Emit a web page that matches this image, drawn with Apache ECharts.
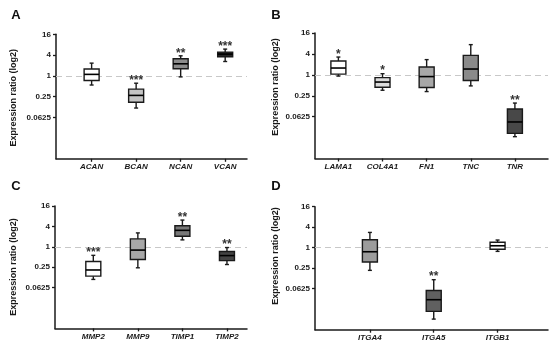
<!DOCTYPE html>
<html>
<head>
<meta charset="utf-8">
<script src="https://cdn.jsdelivr.net/npm/echarts@6/dist/echarts.min.js"></script>
<style>html,body{margin:0;padding:0;background:#fff}#c{width:550px;height:350px}</style>
</head>
<body>
<div id="c"></div>
<script>
// ---- data (box: [min, Q1, median, Q3, max]) ----
const catsA = ['ACAN', 'BCAN', 'NCAN', 'VCAN'];
const boxesA = [[0.54, 0.73, 1.1, 1.57, 2.33], [0.116, 0.17, 0.27, 0.41, 0.61], [0.93, 1.6, 2.23, 3.11, 3.8], [2.6, 3.56, 4.26, 4.87, 5.95]];
const starsA = ['', '***', '**', '***'];

const catsB = ['LAMA1', 'COL4A1', 'FN1', 'TNC', 'TNR'];
const boxesB = [[0.92, 1.05, 1.57, 2.5, 3.25], [0.36, 0.44, 0.62, 0.83, 1.08], [0.33, 0.43, 0.89, 1.68, 2.74], [0.48, 0.69, 1.47, 3.64, 7.4], [0.0166, 0.0207, 0.044, 0.104, 0.154]];
const starsB = ['*', '*', '', '', '**'];

const catsC = ['MMP2', 'MMP9', 'TIMP1', 'TIMP2'];
const boxesC = [[0.109, 0.136, 0.207, 0.37, 0.56], [0.24, 0.42, 0.80, 1.71, 2.57], [1.6, 2.04, 3.06, 4.2, 6.15], [0.30, 0.39, 0.55, 0.73, 0.95]];
const starsC = ['***', '', '**', '**'];

const catsD = ['ITGA4', 'ITGA5', 'ITGB1'];
const boxesD = [[0.216, 0.38, 0.76, 1.72, 2.81], [0.008, 0.0135, 0.0297, 0.0556, 0.115], [0.78, 0.9, 1.14, 1.44, 1.68]];
const starsD = ['', '**', ''];

const yTicks = [0.0625, 0.25, 1, 4, 16];
const yMin = 1 / 256, yMax = 16, refValue = 1;
const panelLetters = ['A', 'B', 'C', 'D'];
const yTitle = 'Expression ratio (log2)';

// ---- styles ----
const fillsA = ['#ffffff', '#c4c4c4', '#8c8c8c', '#262626'];
const fillsB = ['#ffffff', '#dcdcdc', '#a8a8a8', '#8a8a8a', '#484848'];
const fillsC = ['#ffffff', '#a8a8a8', '#787878', '#444444'];
const fillsD = ['#9c9c9c', '#606060', '#ffffff'];
const FONT = '"Liberation Sans", Arial, sans-serif';
const INK = '#1a1a1a';

const panels = [
  { cats: catsA, boxes: boxesA, stars: starsA, fills: fillsA, grid: { left: 56, top: 34.3, width: 191, height: 124.5 }, xr: [-0.8, 3.49] },
  { cats: catsB, boxes: boxesB, stars: starsB, fills: fillsB, grid: { left: 315, top: 33, width: 233, height: 125.5 }, xr: [-0.53, 4.75] },
  { cats: catsC, boxes: boxesC, stars: starsC, fills: fillsC, grid: { left: 55, top: 206, width: 192, height: 122.4 }, xr: [-0.86, 3.45] },
  { cats: catsD, boxes: boxesD, stars: starsD, fills: fillsD, grid: { left: 315, top: 206.7, width: 233, height: 123 }, xr: [-0.86, 2.79] }
];

function yLabel(v) {
  const t = yTicks.find(function (k) { return Math.abs(Math.log2(k) - Math.log2(v)) < 1e-6; });
  return t === undefined ? '' : String(t);
}

const grids = [], xAxes = [], yAxes = [], series = [];
panels.forEach(function (p, i) {
  grids.push(Object.assign({ containLabel: false, outerBoundsMode: 'none' }, p.grid));
  const idx = p.cats.map(function (_, k) { return k; });
  xAxes.push({
    gridIndex: i, type: 'value', min: p.xr[0], max: p.xr[1],
    axisLine: { show: true, onZero: false, lineStyle: { color: INK, width: 1.5 } },
    axisTick: { show: true, length: 3, customValues: idx, lineStyle: { color: INK, width: 1.3 } },
    axisLabel: {
      customValues: idx, margin: 4, fontSize: 8, fontWeight: 'bold', fontStyle: 'italic',
      fontFamily: FONT, color: INK,
      formatter: function (v) { return p.cats[Math.round(v)]; }
    },
    splitLine: { show: false }
  });
  yAxes.push({
    gridIndex: i, type: 'log', logBase: 2, min: yMin, max: yMax,
    axisLine: { show: true, onZero: false, lineStyle: { color: INK, width: 1.5 } },
    axisTick: { show: true, length: 3, customValues: yTicks, lineStyle: { color: INK, width: 1.3 } },
    axisLabel: { customValues: yTicks, margin: 5, fontSize: 8, fontWeight: 'bold', fontFamily: FONT, color: INK, formatter: yLabel },
    splitLine: { show: false }, minorTick: { show: false }
  });
  const data = p.boxes.map(function (b, k) { return [k].concat(b); });
  series.push({
    type: 'custom', xAxisIndex: i, yAxisIndex: i, z: 10,
    encode: { x: 0, y: [1, 2, 3, 4, 5] },
    data: data,
    renderItem: function (params, api) {
      const x = api.value(0);
      const lo = api.coord([x, api.value(1)]);
      const q1 = api.coord([x, api.value(2)]);
      const md = api.coord([x, api.value(3)]);
      const q3 = api.coord([x, api.value(4)]);
      const hi = api.coord([x, api.value(5)]);
      const cx = lo[0], hw = 7.5, cap = 2;
      const ln = { stroke: INK, lineWidth: 1.4 };
      const children = [
        { type: 'line', shape: { x1: cx, y1: hi[1], x2: cx, y2: q3[1] }, style: ln },
        { type: 'line', shape: { x1: cx, y1: q1[1], x2: cx, y2: lo[1] }, style: ln },
        { type: 'line', shape: { x1: cx - cap, y1: hi[1], x2: cx + cap, y2: hi[1] }, style: ln },
        { type: 'line', shape: { x1: cx - cap, y1: lo[1], x2: cx + cap, y2: lo[1] }, style: ln },
        { type: 'rect', shape: { x: cx - hw, y: q3[1], width: 2 * hw, height: q1[1] - q3[1] }, style: { fill: p.fills[params.dataIndex], stroke: INK, lineWidth: 1.4 } },
        { type: 'line', shape: { x1: cx - hw, y1: md[1], x2: cx + hw, y2: md[1] }, style: { stroke: '#000', lineWidth: 1.6 } }
      ];
      const s = p.stars[params.dataIndex];
      if (s) {
        children.push({ type: 'text', style: { text: s, x: cx, y: hi[1] - 2.5, align: 'center', verticalAlign: 'middle', font: 'bold 12px ' + FONT, fill: '#333' } });
      }
      return { type: 'group', children: children };
    },
    markLine: {
      silent: true, symbol: 'none', z: 1, animation: false,
      label: { show: false },
      lineStyle: { color: '#c8c8c8', type: [6, 4], width: 1.2 },
      data: [{ yAxis: refValue }]
    }
  });
});

const letterPos = [[16, 15.5], [276, 15.5], [16, 186], [276, 186]];
const titlePos = [[14, 97.7], [275.3, 87], [14, 267], [275.3, 256]];
const graphic = [];
panelLetters.forEach(function (L, i) {
  graphic.push({ type: 'text', x: letterPos[i][0], y: letterPos[i][1], style: { text: L, font: 'bold 13px ' + FONT, fill: '#111', align: 'center', verticalAlign: 'middle' } });
  graphic.push({ type: 'text', x: titlePos[i][0], y: titlePos[i][1], rotation: Math.PI / 2, style: { text: yTitle, font: 'bold 9px ' + FONT, fill: INK, align: 'center', verticalAlign: 'middle' } });
});

const chart = echarts.init(document.getElementById('c'), null, { renderer: 'canvas' });
chart.setOption({
  animation: false,
  backgroundColor: '#ffffff',
  grid: grids, xAxis: xAxes, yAxis: yAxes, series: series, graphic: graphic
});
</script>
</body>
</html>
